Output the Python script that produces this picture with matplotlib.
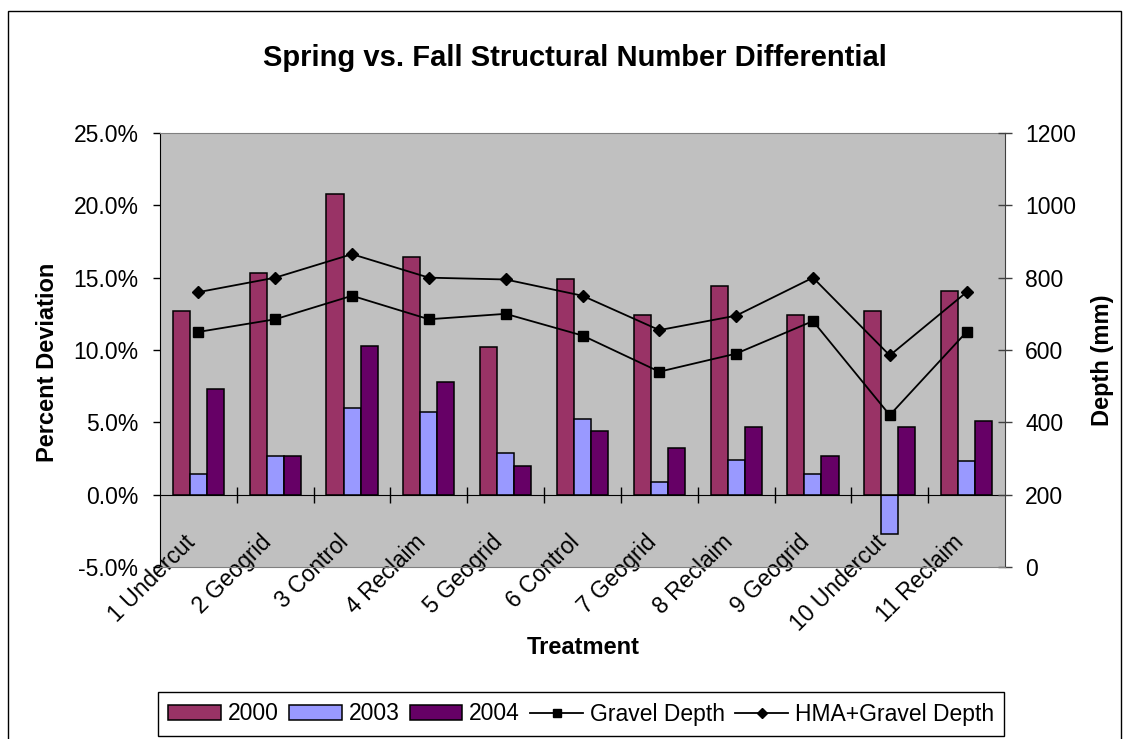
import matplotlib
matplotlib.use('Agg')
import matplotlib.pyplot as plt
import numpy as np
import matplotlib.transforms as mtransforms
from matplotlib.patches import Rectangle
from matplotlib.lines import Line2D
from matplotlib.ticker import FuncFormatter, MultipleLocator, FixedLocator

plt.rcParams['font.family'] = ['Liberation Sans', 'DejaVu Sans']

categories = ["1 Undercut", "2 Geogrid", "3 Control", "4 Reclaim", "5 Geogrid",
              "6 Control", "7 Geogrid", "8 Reclaim", "9 Geogrid", "10 Undercut",
              "11 Reclaim"]
series_years = ["2000", "2003", "2004"]
pct_2000 = [12.7, 15.3, 20.8, 16.4, 10.2, 14.9, 12.4, 14.4, 12.4, 12.7, 14.1]
pct_2003 = [1.4, 2.7, 6.0, 5.7, 2.9, 5.2, 0.9, 2.4, 1.4, -2.7, 2.3]
pct_2004 = [7.3, 2.7, 10.3, 7.8, 2.0, 4.4, 3.2, 4.7, 2.7, 4.7, 5.1]
gravel_depth = [650, 685, 750, 685, 700, 640, 540, 590, 680, 420, 650]
hma_gravel_depth = [760, 800, 865, 800, 795, 750, 655, 695, 800, 585, 760]

W, H = 1130, 739
fig = plt.figure(figsize=(W / 100, H / 100), dpi=100)
ax = fig.add_axes([160 / W, 1 - 567 / H, (1005 - 160) / W, (567 - 133) / H])
ax.set_facecolor('#C0C0C0')

x = np.arange(len(categories))
bw = 1 / 4.5
colors = ['#993366', '#9999FF', '#660066']
for k, (vals, col) in enumerate(zip([pct_2000, pct_2003, pct_2004], colors)):
    ax.bar(x + (k - 1) * bw, vals, width=bw, color=col, edgecolor='black',
           linewidth=1.1, zorder=2)

ax.set_xlim(-0.5, len(categories) - 0.5)
ax.set_ylim(-5, 25)
ax.yaxis.set_major_locator(MultipleLocator(5))
ax.yaxis.set_major_formatter(FuncFormatter(lambda v, p: f"{v:.1f}%"))
ax.tick_params(axis='y', direction='out', length=5, width=1, pad=10.5,
               labelsize=16.5, color='black')

ax.spines['bottom'].set_position(('data', 0))
ax.spines['bottom'].set_color('black')
ax.spines['left'].set_color('black')
ax.spines['top'].set_color('#808080')
ax.spines['right'].set_visible(False)

ax.set_xticks(x)
ax.set_xticklabels(categories)
ax.xaxis.set_minor_locator(FixedLocator(np.arange(0.5, len(categories) - 0.5, 1)))
ax.tick_params(axis='x', which='major', length=0, pad=26, labelsize=16.5)
ax.tick_params(axis='x', which='minor', direction='inout', length=11, width=1,
               color='black')
offset = mtransforms.ScaledTranslation(-15 / 100, 0, fig.dpi_scale_trans)
for lab in ax.get_xticklabels():
    lab.set_rotation(45)
    lab.set_rotation_mode('anchor')
    lab.set_ha('right')
    lab.set_va('top')
    lab.set_transform(lab.get_transform() + offset)

ax2 = ax.twinx()
ax2.plot(x, gravel_depth, color='black', linewidth=1.3, marker='s',
         markersize=7.5, label='Gravel Depth', zorder=3)
ax2.plot(x, hma_gravel_depth, color='black', linewidth=1.3, marker='D',
         markersize=6.2, label='HMA+Gravel Depth', zorder=3)
ax2.set_ylim(0, 1200)
ax2.yaxis.set_major_locator(MultipleLocator(200))
ax2.tick_params(axis='y', direction='inout', length=10, width=1, pad=9.5,
                labelsize=16.5, color='#404040')
ax2.spines['right'].set_color('#404040')
ax2.spines['bottom'].set_color('#808080')
ax2.spines['top'].set_visible(False)
ax2.spines['left'].set_visible(False)

fig.text(575 / W, 1 - 58 / H, "Spring vs. Fall Structural Number Differential",
         ha='center', va='center', fontsize=21, fontweight='bold')
fig.text(48 / W, 1 - 362 / H, "Percent Deviation", rotation=90, ha='center',
         va='center', fontsize=17, fontweight='bold')
fig.text(1103 / W, 1 - 360 / H, "Depth (mm)", rotation=90, ha='center',
         va='center', fontsize=17, fontweight='bold')
fig.text(583 / W, 1 - 647 / H, "Treatment", ha='center', va='center',
         fontsize=17, fontweight='bold')

handles = [Rectangle((0, 0), 1, 1, facecolor=c, edgecolor='black', linewidth=1.1)
           for c in colors]
handles += [Line2D([], [], color='black', linewidth=1.3, marker='s', markersize=6),
            Line2D([], [], color='black', linewidth=1.3, marker='D', markersize=5)]
labels = series_years + ['Gravel Depth', 'HMA+Gravel Depth']
leg = fig.legend(handles, labels, ncol=5, loc='center',
                 bbox_to_anchor=(581 / W, 1 - 714 / H), frameon=True,
                 fancybox=False, edgecolor='black', framealpha=1,
                 fontsize=16.5, handlelength=2.3, handleheight=0.6,
                 columnspacing=0.45, handletextpad=0.3, borderpad=0.45)
leg.get_frame().set_linewidth(1)

fig.patches.append(Rectangle((8 / W, -0.02), (1121 - 8) / W, (H - 11) / H + 0.02,
                             transform=fig.transFigure, fill=False,
                             edgecolor='black', linewidth=1))

fig.savefig('out.png', dpi=100)
